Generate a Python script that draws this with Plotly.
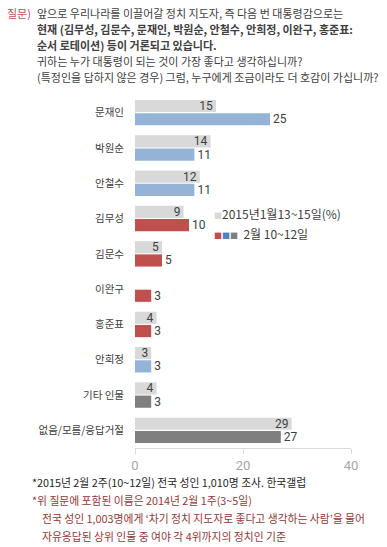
import plotly.graph_objects as go

categories = ["문재인", "박원순", "안철수", "김무성", "김문수", "이완구", "홍준표", "안희정", "기타 인물", "없음/모름/응답거절"]
prev_values = [15, 14, 12, 9, 5, None, 4, 3, 4, 29]
curr_values = [25, 11, 11, 10, 5, 3, 3, 3, 3, 27]
curr_colors = ["#95b3d7", "#95b3d7", "#95b3d7", "#c0504d", "#c0504d", "#c0504d", "#c0504d", "#95b3d7", "#7f7f7f", "#7f7f7f"]
prev_name = "2015년1월13~15일(%)"
curr_name = "2월 10~12일"
x_ticks = [0, 20, 40]

FONT = "Noto Sans CJK KR, Noto Sans, sans-serif"
NUMFONT = "Roboto, Noto Sans, sans-serif"
W, H = 387, 547
L, R, T, B = 135, 36, 95, 99
PW, PH = W - L - R, H - T - B

def px(x):
    return (x - L) / PW

def py(y):
    return (H - B - y) / PH

fig = go.Figure()
fig.add_trace(go.Bar(
    y=categories, x=prev_values, orientation="h", name=prev_name,
    marker=dict(color="#d9d9d9", line=dict(width=0)),
    text=[("" if v is None else str(v)) for v in prev_values],
    textposition="inside", insidetextanchor="end", constraintext="none", textangle=0,
    textfont=dict(family=NUMFONT, size=12, color="#404040"),
    cliponaxis=False, showlegend=False,
))
fig.add_trace(go.Bar(
    y=categories, x=curr_values, orientation="h", name=curr_name,
    marker=dict(color=curr_colors, line=dict(width=0)),
    text=[str(v) for v in curr_values],
    textposition="outside", constraintext="none", textangle=0,
    textfont=dict(family=NUMFONT, size=12, color="#404040"),
    cliponaxis=False, showlegend=False,
))

ann = []
def add_text(x, y, text, size=10.8, color="#404040", anchor="left"):
    ann.append(dict(x=px(x), y=py(y), xref="paper", yref="paper", text=text,
                    showarrow=False, xanchor=anchor, yanchor="middle",
                    font=dict(family=FONT, size=size, color=color)))

title_lines = [
    "앞으로 우리나라를 이끌어갈 정치 지도자, 즉 다음 번 대통령감으로는",
    "<b>현재 (김무성, 김문수, 문재인, 박원순, 안철수, 안희정, 이완구, 홍준표:</b>",
    "<b>순서 로테이션) 등이 거론되고 있습니다.</b>",
    "귀하는 누가 대통령이 되는 것이 가장 좋다고 생각하십니까?",
    "(특정인을 답하지 않은 경우) 그럼, 누구에게 조금이라도 더 호감이 가십니까?",
]
add_text(5, 13, "질문)", size=11, color="#c0504d")
for i, t in enumerate(title_lines):
    add_text(35, 13 + 16 * i, t, size=11)

sq = '<span style="color:%s;font-size:8px">■</span>'
add_text(212, 213, sq % "#d9d9d9" + prev_name, size=12)
add_text(212, 234, sq % "#c0504d" + sq % "#4f81bd" + sq % "#7f7f7f" + "  " + curr_name, size=12)

add_text(30, 482, "*2015년 2월 2주(10~12일) 전국 성인 1,010명 조사. 한국갤럽", color="#262626")
add_text(30, 500, "*위 질문에 포함된 이름은 2014년 2월 1주(3~5일)", color="#953735")
add_text(40, 518, "전국 성인 1,003명에게 ‘차기 정치 지도자로 좋다고 생각하는 사람’을 물어", color="#953735")
add_text(40, 536, "자유응답된 상위 인물 중 여야 각 4위까지의 정치인 기준", color="#953735")

fig.update_layout(
    width=W, height=H, margin=dict(l=L, r=R, t=T, b=B, autoexpand=False),
    paper_bgcolor="white", plot_bgcolor="white",
    barmode="group", bargap=0.25, bargroupgap=0.08,
    annotations=ann,
    xaxis=dict(range=[0, 40], tickvals=x_ticks, showgrid=False, zeroline=False,
               showline=True, linecolor="#d9d9d9", linewidth=1,
               ticks="outside", ticklen=5, tickcolor="#d9d9d9",
               tickfont=dict(family=NUMFONT, size=13, color="#a6a6a6"), fixedrange=True),
    yaxis=dict(autorange="reversed", showgrid=False, zeroline=False, showline=False,
               ticks="", ticklabelstandoff=10,
               tickfont=dict(family=FONT, size=10.5, color="#404040"), fixedrange=True),
)
fig.write_html("out.html")
